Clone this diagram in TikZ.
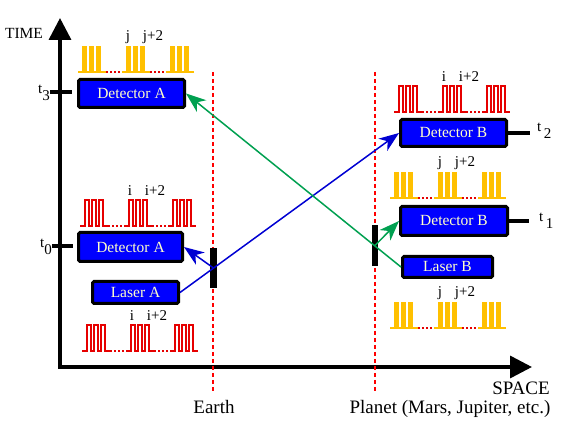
\documentclass[tikz,border=0pt]{standalone}
\usepackage{fontspec}
\setmainfont{Liberation Serif}
\usetikzlibrary{arrows.meta,calc}

\definecolor{boxtext}{RGB}{255,255,200}
\definecolor{pulsered}{RGB}{230,0,0}
\definecolor{pulseyellow}{RGB}{255,192,0}
\definecolor{beamblue}{RGB}{0,0,210}
\definecolor{beamgreen}{RGB}{0,160,80}

\tikzset{
  devbox/.style={draw=black, line width=3pt, fill=blue, text=boxtext, rounded corners=1.5pt,
    inner sep=0pt, font=\fontsize{15.5}{18}\selectfont},
  beam/.style={line width=1.5pt, -{Stealth[length=20pt,width=15pt,inset=6pt]}},
  redwave/.style={pulsered, line width=1.6pt},
  yelbase/.style={pulseyellow, line width=2pt},
  dotline/.style={pulsered, line width=1.5pt, dash pattern=on 1.5pt off 2.5pt},
  idx/.style={font=\fontsize{15}{17}\selectfont},
  tlabel/.style={font=\fontsize{15}{17}\selectfont, inner sep=0pt},
  axislbl/.style={font=\fontsize{19}{21}\selectfont, inner sep=0.5pt},
  tick/.style={line width=4pt},
  site/.style={red, line width=1.2pt, dash pattern=on 4pt off 3pt},
  mirror/.style={fill=black, draw=none, inner sep=0pt}
}

% x, baseline y, index letter, name prefix
\newcommand{\redtrain}[4]{
  \foreach \o in {0,44,88} {
    \draw[redwave] (#1+\o,#2) -- ++(5,0) -- ++(0,-26) -- ++(4,0) -- ++(0,26) -- ++(3,0)
      -- ++(0,-26) -- ++(4,0) -- ++(0,26) -- ++(3,0) -- ++(0,-26) -- ++(4,0) -- ++(0,26) -- ++(5,0);
  }
  \draw[dotline] (#1+28,#2) -- (#1+44,#2) (#1+72,#2) -- (#1+88,#2);
  \node[idx] (#4lo) at (#1+50,#2-35) {#3};
  \node[idx] (#4hi) at (#1+75,#2-35) {#3+2};
}
\newcommand{\yeltrain}[4]{
  \foreach \o in {0,44,88} {
    \draw[yelbase] (#1+\o,#2) -- ++(28,0);
    \foreach \b in {4,11,18}
      \fill[pulseyellow] (#1+\o+\b,#2) rectangle ++(5,-26);
  }
  \draw[dotline] (#1+28,#2) -- (#1+44,#2) (#1+72,#2) -- (#1+88,#2);
  \node[idx] (#4lo) at (#1+50,#2-35) {#3};
  \node[idx] (#4hi) at (#1+75,#2-35) {#3+2};
}

\begin{document}
\begin{tikzpicture}[x=1pt,y=-1pt]
  \useasboundingbox (0,0) rectangle (574,433);

  % axes
  \coordinate (tTop) at (60,18);
  \coordinate (origin) at (60,367);
  \coordinate (sEnd) at (532,367);
  \draw[line width=3.5pt, {Triangle[length=22pt,width=22pt]}-{Triangle[length=22pt,width=22pt]}]
    (tTop) -- (origin) -- (sEnd);
  \node[font=\fontsize{15.5}{18}\selectfont] (timelbl) at (24,33) {TIME};
  \node[axislbl] (spacelbl) at (521,388) {SPACE};

  % earth and planet
  \draw[site] (213,72) -- (213,393);
  \draw[site] (375,72) -- (375,393);
  \node[axislbl] (earth) at (214,407) {Earth};
  \node[axislbl] (planet) at (450,409) {Planet (Mars, Jupiter, etc.)};
  \node[mirror, minimum width=7pt, minimum height=40pt] (earthM) at (213.5,268) {};
  \node[mirror, minimum width=6pt, minimum height=41pt] (planetM) at (375,245.5) {};

  % devices
  \node[devbox, minimum width=106pt, minimum height=28pt] (detA3) at (131.5,93.5) {Detector A};
  \node[devbox, minimum width=104pt, minimum height=29pt] (detA0) at (130.5,247) {Detector A};
  \node[devbox, minimum width=86pt, minimum height=22pt] (laserA) at (135.5,292.5) {Laser A};
  \node[devbox, minimum width=106pt, minimum height=27pt] (detB2) at (453.5,133) {Detector B};
  \node[devbox, minimum width=107pt, minimum height=29pt] (detB1) at (454,221) {Detector B};
  \node[devbox, minimum width=90pt, minimum height=21pt] (laserB) at (447.5,267) {Laser B};

  % time marks
  \coordinate (t3) at (50,92);
  \coordinate (t0) at (52,246);
  \draw[tick] (t3) -- ++(22,0);
  \draw[tick] (t0) -- ++(21,0);
  \draw[tick] (detB2.east) -- ++(22,0);
  \draw[tick] (detB1.east) -- ++(20,0);
  \node[tlabel, anchor=east] (t3lbl) at (50,93) {t\raisebox{-7pt}{3}};
  \node[tlabel, anchor=east] (t0lbl) at (52,247) {t\raisebox{-7pt}{0}};
  \node[tlabel, anchor=west] (t2lbl) at (537,131) {t\,\raisebox{-7pt}{2}};
  \node[tlabel, anchor=west] (t1lbl) at (539,221) {t\,\raisebox{-7pt}{1}};

  % laser beams
  \draw[beam, beamblue] (laserA.east) -- (detB2.west);
  \draw[beam, beamblue] (earthM.center) -- (detA0.east);
  \draw[beam, beamgreen] (laserB.west) -- (detA3.east);
  \draw[beam, beamgreen] (planetM.center) -- (detB1.west);

  % pulse trains
  \yeltrain{78}{72}{j}{ya}
  \redtrain{80}{226}{i}{ra}
  \redtrain{82}{351}{i}{rb}
  \redtrain{394}{112}{i}{rc}
  \yeltrain{390}{198}{j}{yb}
  \yeltrain{390}{328}{j}{yc}
\end{tikzpicture}
\end{document}
